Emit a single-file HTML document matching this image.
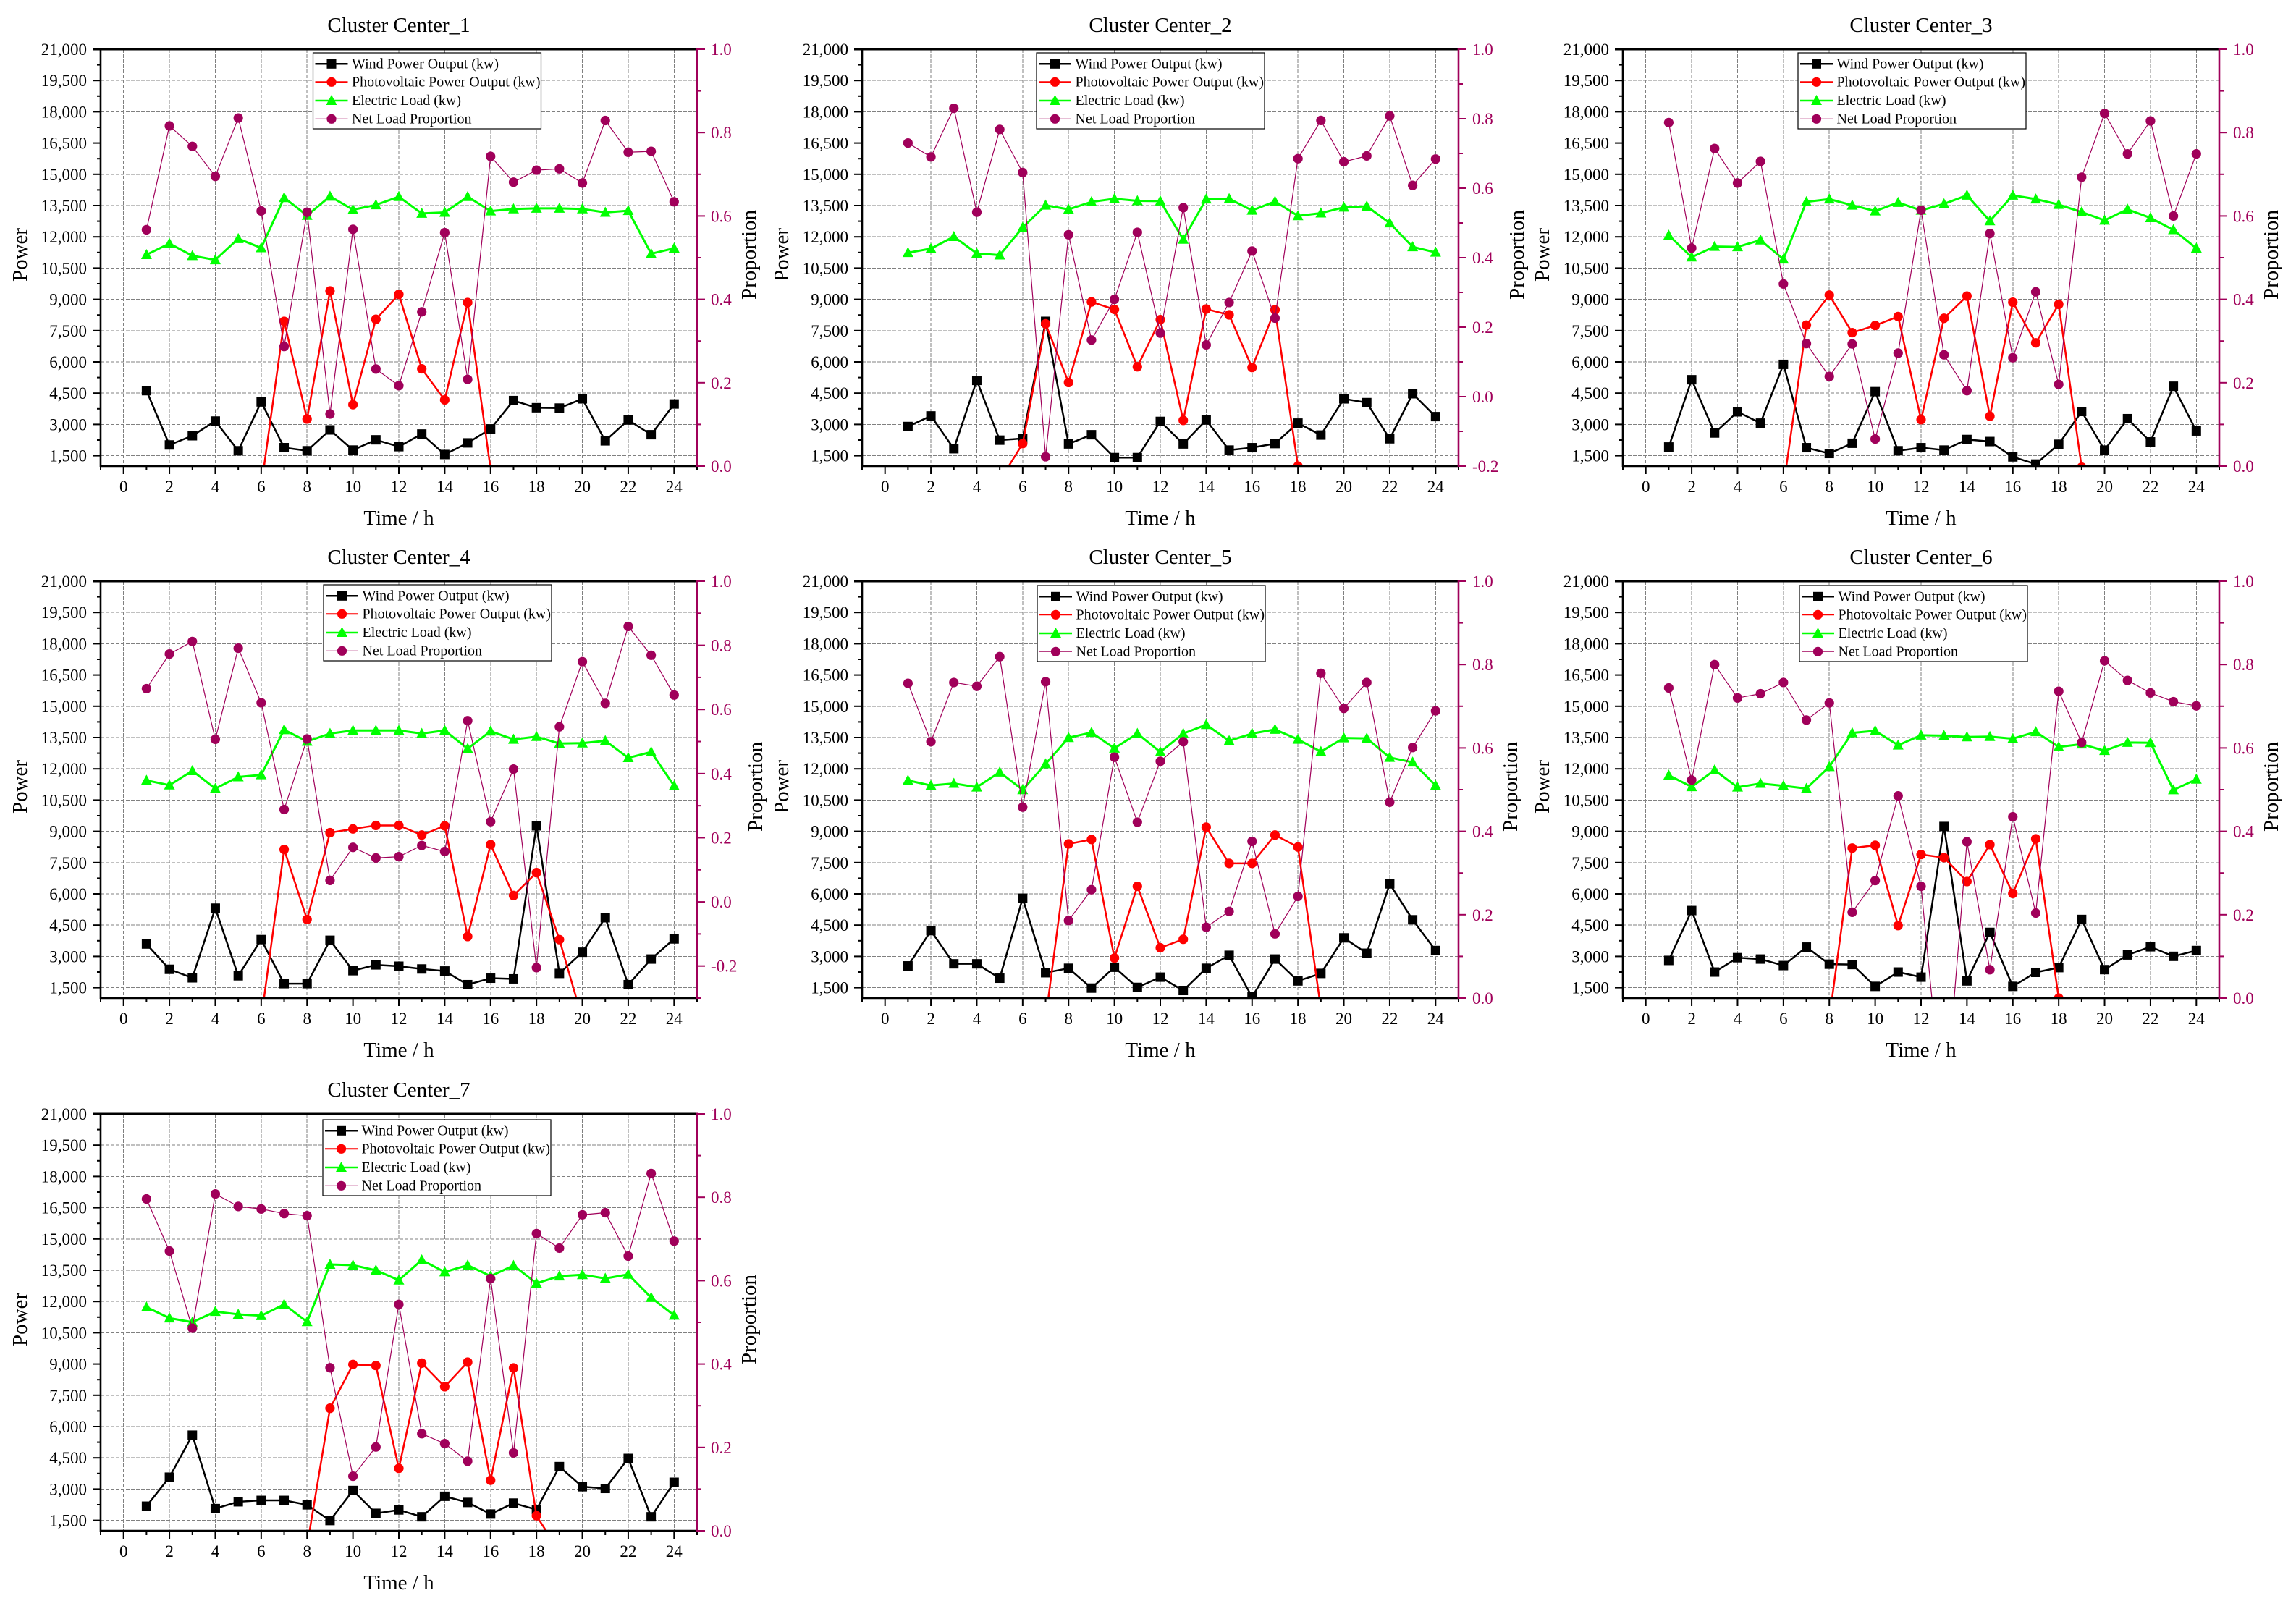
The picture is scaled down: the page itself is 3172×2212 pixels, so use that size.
<!DOCTYPE html>
<html lang="en">
<head>
<meta charset="utf-8">
<title>Cluster Centers</title>
<style>
html,body{margin:0;padding:0;background:#fff;}
svg{display:block;font-family:"Liberation Serif",serif;}
</style>
</head>
<body>
<svg id="root" xmlns="http://www.w3.org/2000/svg" width="3172" height="2212" viewBox="0 0 3172 2212">
<rect width="3172" height="2212" fill="#ffffff"></rect>
</svg>
<script>
// Shared axes data
const hours = [1,2,3,4,5,6,7,8,9,10,11,12,13,14,15,16,17,18,19,20,21,22,23,24];
const xMajorTicks = [0,2,4,6,8,10,12,14,16,18,20,22,24];
const xMinorTicks = [-1,1,3,5,7,9,11,13,15,17,19,21,23,25];
const powerMajorTicks = [1500,3000,4500,6000,7500,9000,10500,12000,13500,15000,16500,18000,19500,21000];
const powerMinorTicks = [2250,3750,5250,6750,8250,9750,11250,12750,14250,15750,17250,18750,20250];
const propMajorTicks = [-0.2,0,0.2,0.4,0.6,0.8,1];
const propMinorTicks = [-0.3,-0.1,0.1,0.3,0.5,0.7,0.9];
const legendLabels = ['Wind Power Output (kw)','Photovoltaic Power Output (kw)','Electric Load (kw)','Net Load Proportion'];

// Cluster Center_1
const wind1 = [4620,2016,2458,3162,1737,4079,1885,1737,2736,1770,2261,1934,2540,1557,2114,2785,4145,3801,3785,4227,2212,3211,2507,3981];
const pv1 = [0,0,0,0,0,0,7945,3260,9403,3948,8043,9239,5668,4177,8846,850,0,0,0,0,0,0,0,0];
const load1 = [11139,11680,11090,10893,11909,11467,13874,13023,13940,13301,13530,13924,13121,13170,13924,13236,13334,13367,13367,13334,13170,13252,11188,11450];
const net1 = [.567,.816,.767,.695,.835,.612,.287,.609,.125,.568,.233,.193,.370,.560,.208,.743,.681,.710,.713,.679,.829,.753,.755,.634];

// Cluster Center_2
const wind2 = [2900,3408,1835,5111,2245,2327,7945,2064,2506,1409,1409,3145,2064,3211,1769,1884,2081,3063,2490,4227,4046,2310,4472,3375];
const pv2 = [0,0,0,0,300,2081,7830,5013,8878,8518,5766,8027,3195,8535,8256,5733,8502,1000,0,0,0,0,0,0];
const load2 = [11237,11434,12007,11204,11122,12449,13514,13317,13678,13825,13727,13711,11876,13809,13825,13268,13694,13006,13137,13416,13465,12662,11516,11254];
const net2 = [.730,.690,.830,.531,.769,.645,-.173,.466,.163,.280,.473,.183,.544,.149,.271,.419,.226,.685,.795,.676,.693,.808,.608,.684];

// Cluster Center_3
const wind3 = [1917,5144,2589,3604,3063,5881,1884,1606,2097,4571,1737,1884,1769,2277,2179,1442,1098,2048,3621,1769,3276,2163,4832,2686];
const pv3 = [0,0,0,0,0,0,7765,9206,7404,7748,8174,3227,8092,9157,3391,8862,6913,8764,950,0,0,0,0,0];
const load3 = [12073,11024,11532,11516,11843,10926,13678,13809,13514,13236,13645,13268,13580,13989,12760,13989,13809,13547,13186,12793,13317,12908,12335,11450];
const net3 = [.824,.523,.762,.679,.731,.437,.294,.215,.293,.065,.271,.614,.267,.181,.558,.260,.418,.196,.693,.846,.749,.828,.600,.749];

// Cluster Center_4
const wind4 = [3594,2381,1971,5314,2069,3806,1692,1692,3774,2315,2594,2528,2397,2299,1644,1954,1922,9264,2184,3200,4855,1644,2872,3839];
const pv4 = [0,0,0,0,0,0,8133,4773,8936,9117,9281,9281,8822,9264,3954,8363,5921,7019,3806,0,0,0,0,0];
const load4 = [11444,11215,11903,11051,11608,11707,13870,13313,13690,13837,13837,13837,13690,13837,12969,13804,13411,13542,13214,13231,13345,12526,12805,11182];
const net4 = [.665,.773,.812,.507,.791,.621,.288,.508,.067,.170,.137,.141,.176,.157,.565,.250,.414,-.205,.546,.749,.619,.859,.769,.645];

// Cluster Center_5
const wind5 = [2544,4233,2643,2643,1954,5790,2217,2430,1479,2479,1512,2004,1364,2430,3052,1054,2872,1823,2184,3889,3151,6478,4757,3282];
const pv5 = [0,0,0,0,0,0,0,8396,8609,2921,6363,3413,3823,9199,7462,7462,8822,8248,500,0,0,0,0,0];
const load5 = [11444,11198,11297,11116,11837,10992,12231,13493,13739,12985,13690,12805,13690,14116,13345,13690,13886,13411,12821,13477,13460,12542,12313,11198];
const net5 = [.755,.615,.757,.748,.819,.458,.759,.186,.260,.578,.422,.568,.615,.170,.208,.376,.154,.244,.779,.695,.757,.470,.601,.689];

// Cluster Center_6
const wind6 = [2807,5199,2249,2938,2872,2561,3446,2626,2610,1561,2249,2004,9232,1823,4151,1561,2233,2462,4773,2364,3069,3462,3003,3282];
const pv6 = [0,0,0,0,0,0,0,0,8199,8330,4479,7888,7740,6593,8363,6019,8641,1000,0,0,0,0,0,0];
const load6 = [11690,11133,11936,11116,11297,11182,11051,12100,13722,13821,13132,13608,13591,13526,13542,13444,13772,13050,13182,12870,13263,13247,10985,11493];
const net6 = [.744,.523,.800,.720,.730,.757,.667,.708,.206,.282,.485,.268,-.3,.375,.068,.435,.204,.736,.613,.809,.762,.732,.711,.701];

// Cluster Center_7
const wind7 = [2179,3571,5586,2064,2391,2457,2457,2245,1491,2933,1835,1999,1671,2654,2359,1803,2327,2015,4079,3113,3030,4472,1671,3326];
const pv7 = [0,0,0,0,0,0,0,270,6880,8977,8927,3997,9042,7912,9091,3424,8813,1720,0,0,0,0,0,0];
const load7 = [11729,11204,11008,11515,11384,11319,11860,11024,13776,13743,13498,13022,13989,13416,13743,13219,13727,12875,13219,13285,13104,13301,12187,11335];
const net7 = [.796,.671,.486,.808,.778,.772,.761,.756,.391,.131,.201,.543,.233,.209,.167,.605,.187,.713,.678,.758,.763,.659,.857,.695];

const SVGNS = 'http://www.w3.org/2000/svg';
const root = document.getElementById('root');
const BLACK = '#000000', RED = '#ff0000', GREEN = '#00ff00', WINE = '#a0005a', GRID = '#808080';

function make(tag, parent, attrs, text) {
  const el = document.createElementNS(SVGNS, tag);
  for (const k in attrs) el.setAttribute(k, attrs[k]);
  if (text !== undefined) el.textContent = text;
  parent.appendChild(el);
  return el;
}

function seg(parent, x1, y1, x2, y2, color, w, dash) {
  const a = {x1: x1, y1: y1, x2: x2, y2: y2, stroke: color, 'stroke-width': w};
  if (dash) a['stroke-dasharray'] = dash;
  return make('line', parent, a);
}

function squareMark(parent, x, y, color) {
  return make('rect', parent, {x: x - 6.5, y: y - 6.5, width: 13, height: 13, fill: color});
}
function circleMark(parent, x, y, color) {
  return make('circle', parent, {cx: x, cy: y, r: 6.6, fill: color});
}
function triangleMark(parent, x, y, color) {
  const pts = [x, y - 8, x + 7.5, y + 6, x - 7.5, y + 6].join(' ');
  return make('polygon', parent, {points: pts, fill: color});
}

function drawSeries(parent, id, values, xFn, yFn, color, width, markFn) {
  const g = make('g', parent, {});
  
  
  const pts = hours.map(function (h, i) { return xFn(h) + ',' + yFn(values[i]); }).join(' ');
  const line = make('polyline', g, {points: pts, fill: 'none', stroke: color, 'stroke-width': width, 'stroke-linejoin': 'round'});
  
  
  hours.forEach(function (h, i) {
    const m = markFn(g, xFn(h), yFn(values[i]), color);
    
    
  });
}

function drawChart(n, left, top, wind, pv, load, net, propMin, legendLeft, legendTop, propTitleGap) {
  const W = 824, H = 576, right = left + W, bottom = top + H;
  const xOf = function (v) { return left + (v + 1) / 26 * W; };
  const yPow = function (v) { return bottom - (v - 1000) / 20000 * H; };
  const yProp = function (v) { return bottom - (v - propMin) / (1 - propMin) * H; };

  const chart = make('g', root, {});
  
  

  const title = make('text', chart, {x: left + W / 2, y: top - 24, 'font-size': 29, 'text-anchor': 'middle', fill: BLACK}, 'Cluster Center_' + n);
  
  

  // grid
  const grid = make('g', chart, {'shape-rendering': 'crispEdges'});
  
  
  powerMajorTicks.filter(function (v) { return v < 21000; }).forEach(function (v) {
    const l = seg(grid, left, yPow(v), right, yPow(v), GRID, 1, '5 2');
    
    
  });
  xMajorTicks.forEach(function (v) {
    const l = seg(grid, xOf(v), top, xOf(v), bottom, GRID, 1, '5 2');
    
    
  });

  // series
  const clipId = 'clip' + n;
  const defs = make('defs', chart, {});
  const clip = make('clipPath', defs, {id: clipId});
  make('rect', clip, {x: left, y: top, width: W, height: H});
  const plot = make('g', chart, {'clip-path': 'url(#' + clipId + ')'});
  
  
  drawSeries(plot, 'wind-power', wind, xOf, yPow, BLACK, 2.5, squareMark);
  drawSeries(plot, 'photovoltaic-power', pv, xOf, yPow, RED, 2.5, circleMark);
  drawSeries(plot, 'electric-load', load, xOf, yPow, GREEN, 3, triangleMark);
  drawSeries(plot, 'net-load-proportion', net, xOf, yProp, WINE, 1.2, circleMark);

  // left axis
  const leftAxis = make('g', chart, {});
  
  
  seg(leftAxis, left, top - 1.5, left, bottom + 1, BLACK, 2.6);
  powerMajorTicks.forEach(function (v) {
    const t = seg(leftAxis, left - 11, yPow(v), left, yPow(v), BLACK, 2);
    
    
    const lab = make('text', leftAxis, {x: left - 19, y: yPow(v) + 8, 'font-size': 23, 'text-anchor': 'end', fill: BLACK}, v.toLocaleString('en-US'));
    
    
  });
  powerMinorTicks.forEach(function (v) {
    const t = seg(leftAxis, left - 5, yPow(v), left, yPow(v), BLACK, 2);
    
    
  });
  const powerTitle = make('text', chart, {x: 0, y: 0, 'font-size': 29, 'text-anchor': 'middle', fill: BLACK, transform: 'translate(' + (left - 102) + ' ' + (top + H / 2 - 4) + ') rotate(-90)'}, 'Power');
  
  

  // top and bottom axes
  const topLine = seg(chart, left - 11, top, right, top, BLACK, 3);
  
  
  const xAxis = make('g', chart, {});
  
  
  seg(xAxis, left, bottom, right, bottom, BLACK, 2.5);
  xMajorTicks.forEach(function (v) {
    const t = seg(xAxis, xOf(v), bottom, xOf(v), bottom + 11, BLACK, 2);
    
    
    const lab = make('text', xAxis, {x: xOf(v), y: bottom + 36, 'font-size': 23, 'text-anchor': 'middle', fill: BLACK}, String(v));
    
    
  });
  xMinorTicks.forEach(function (v) {
    const t = seg(xAxis, xOf(v), bottom, xOf(v), bottom + 6, BLACK, 2);
    
    
  });
  const timeTitle = make('text', chart, {x: left + W / 2, y: bottom + 81, 'font-size': 29, 'text-anchor': 'middle', fill: BLACK}, 'Time / h');
  
  

  // right axis
  const rightAxis = make('g', chart, {});
  
  
  seg(rightAxis, right, top - 1.5, right, bottom + 1, WINE, 2.6);
  propMajorTicks.filter(function (v) { return v >= propMin; }).forEach(function (v) {
    const t = seg(rightAxis, right, yProp(v), right + 11, yProp(v), WINE, 2);
    
    
    const lab = make('text', rightAxis, {x: right + 19, y: yProp(v) + 8, 'font-size': 23, fill: WINE}, v.toFixed(1));
    
    
  });
  propMinorTicks.filter(function (v) { return v >= propMin; }).forEach(function (v) {
    const t = seg(rightAxis, right, yProp(v), right + 6, yProp(v), WINE, 2);
    
    
  });
  const propTitle = make('text', chart, {x: 0, y: 0, 'font-size': 29, 'text-anchor': 'middle', fill: BLACK, transform: 'translate(' + (right + propTitleGap + 20) + ' ' + (top + H / 2 - 4) + ') rotate(-90)'}, 'Proportion');
  
  

  // legend
  const legend = make('g', chart, {});
  
  
  const box = make('rect', legend, {x: legendLeft, y: legendTop, width: 315, height: 105, fill: '#ffffff', stroke: BLACK, 'stroke-width': 1.2});
  
  
  const colors = [BLACK, RED, GREEN, WINE];
  const widths = [2.5, 2, 2.5, 1];
  const marks = [squareMark, circleMark, triangleMark, circleMark];
  const rowOffsets = [15.3, 40.3, 66, 91.3];
  legendLabels.forEach(function (label, i) {
    const rowY = legendTop + rowOffsets[i];
    const row = make('g', legend, {});
    
    
    seg(row, legendLeft + 3, rowY, legendLeft + 48, rowY, colors[i], widths[i]);
    marks[i](row, legendLeft + 25.5, rowY, colors[i]);
    make('text', row, {x: legendLeft + 53.5, y: rowY + 6, 'font-size': 20, fill: BLACK}, label);
  });
}

drawChart(1, 139, 68, wind1, pv1, load1, net1, 0, 432.5, 73, 61);
drawChart(2, 1191, 68, wind2, pv2, load2, net2, -0.2, 1432, 73, 70);
drawChart(3, 2242, 68, wind3, pv3, load3, net3, 0, 2484, 73, 61);
drawChart(4, 139, 803, wind4, pv4, load4, net4, -0.3, 447, 808, 70);
drawChart(5, 1191, 803, wind5, pv5, load5, net5, 0, 1433, 809, 61);
drawChart(6, 2242, 803, wind6, pv6, load6, net6, 0, 2486, 809, 61);
drawChart(7, 139, 1539, wind7, pv7, load7, net7, 0, 446, 1547, 61);
</script>
</body>
</html>
